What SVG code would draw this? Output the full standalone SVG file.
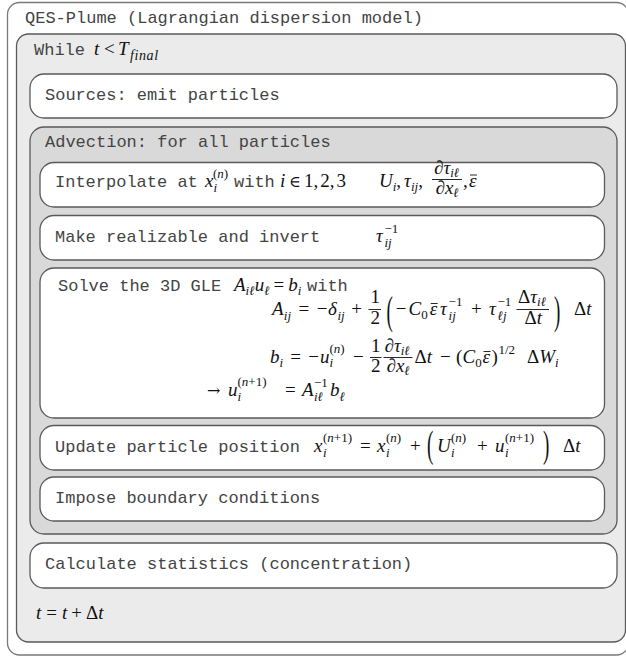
<svg xmlns="http://www.w3.org/2000/svg" width="626" height="657" viewBox="0 0 626 657">
<style>
.box{stroke:#5a5a5a;stroke-width:1.3}
.w{fill:#fff}
.g1{fill:#ebebeb}
.g2{fill:#d9d9d9}
.mono{font-family:"Liberation Mono","Courier New",monospace;font-size:17px;fill:#444}
.m{font-family:"Liberation Serif","Times New Roman",serif;font-style:italic;font-size:19px;fill:#111}
.n{font-style:normal}
.s{font-size:13px}
.arr{font-family:"DejaVu Serif",serif;font-size:16px;fill:#111}
.bar{stroke:#111;stroke-width:0.9}
</style>
<rect width="626" height="657" fill="#fff"/>
<g id="outer">
<rect x="7.5" y="2.5" width="621" height="652.5" rx="12" fill="#fff" stroke="#7a7a7a" stroke-width="1.3"/>
<text class="mono" x="25" y="23">QES-Plume (Lagrangian dispersion model)</text>
</g>
<g id="loop">
<rect class="box g1" x="16.5" y="34" width="609" height="608" rx="12"/>
<text class="mono" x="34" y="55">While</text>
<text class="m" x="94" y="55">t</text>
<text class="m n" x="104" y="55">&lt;</text>
<text class="m" x="118" y="55">T</text>
<text class="m s" x="130" y="59.5" style="font-size:14px;letter-spacing:0.6px">final</text>
</g>
<g id="sources">
<rect class="box w" x="30" y="74" width="587" height="44" rx="14"/>
<text class="mono" x="45" y="100">Sources: emit particles</text>
</g>
<g id="advection">
<rect class="box g2" x="30" y="127" width="587" height="407" rx="14"/>
<text class="mono" x="45" y="147">Advection: for all particles</text>
</g>
<g id="interpolate">
<rect class="box w" x="40" y="162.5" width="564.5" height="44.5" rx="14"/>
<text class="mono" x="55" y="187">Interpolate at</text>
<text class="m" x="205" y="187">x</text>
<text class="m s" x="213.5" y="191.5">i</text>
<text class="m s" x="213" y="178"><tspan class="n">(</tspan>n<tspan class="n">)</tspan></text>
<text class="mono" x="234" y="187">with</text>
<text class="m" x="280" y="187">i</text>
<text class="arr" x="289" y="187">∈</text>
<text class="m n" x="304" y="187">1,<tspan dx="2">2,</tspan><tspan dx="2">3</tspan></text>
<text class="m" x="379" y="187">U<tspan class="s" dy="4">i</tspan><tspan class="n" dy="-4">,</tspan><tspan dx="3">τ</tspan><tspan class="s" dy="4">ij</tspan><tspan class="n" dy="-4">,</tspan></text>
<text class="m" x="434" y="174">∂τ<tspan class="s" dy="3">iℓ</tspan></text>
<line class="bar" x1="432" y1="179.5" x2="462" y2="179.5"/>
<text class="m" x="435.5" y="194">∂x<tspan class="s" dy="3">ℓ</tspan></text>
<text class="m n" x="463" y="187">,</text>
<text class="m" x="469" y="187">ε</text>
<line class="bar" x1="470" y1="175" x2="477" y2="175"/>
</g>
<g id="realizable">
<rect class="box w" x="40" y="215.5" width="564.5" height="44.5" rx="14"/>
<text class="mono" x="55" y="242">Make realizable and invert</text>
<text class="m" x="376" y="242">τ</text>
<text class="m s" x="384.5" y="247">ij</text>
<text class="m s n" x="384.5" y="233">−1</text>
</g>
<g id="solve">
<rect class="box w" x="40" y="268" width="564.5" height="150" rx="14"/>
<text class="mono" x="58" y="291">Solve the 3D GLE</text>
<text class="m" x="234" y="291">A<tspan class="s" dy="4">iℓ</tspan><tspan dy="-4">u</tspan><tspan class="s" dy="4">ℓ</tspan><tspan class="n" dy="-4" dx="4">=</tspan><tspan dx="4">b</tspan><tspan class="s" dy="4">i</tspan></text>
<text class="mono" x="307" y="291">with</text>
<text class="m" x="272" y="315">A</text>
<text class="m s" x="283.8" y="319.5">ij</text>
<text class="m n" x="298.5" y="315">=</text>
<text class="m n" x="316.7" y="315">−</text>
<text class="m" x="328" y="315">δ</text>
<text class="m s" x="337.5" y="319.5">ij</text>
<text class="m n" x="351.2" y="315">+</text>
<text class="m n" x="370.5" y="303">1</text>
<line class="bar" x1="368.5" y1="309.5" x2="381" y2="309.5"/>
<text class="m n" x="370.5" y="324">2</text>
<text class="m n" transform="translate(386.5,324.3) scale(1,2.1)">(</text>
<text class="m n" x="395.8" y="315">−</text>
<text class="m" x="408.5" y="315">C</text>
<text class="m s n" x="421.2" y="319">0</text>
<text class="m" x="429.7" y="315">ε</text>
<line class="bar" x1="430.7" y1="303.5" x2="437.7" y2="303.5"/>
<text class="m" x="440.1" y="315">τ</text>
<text class="m s" x="448.6" y="320">ij</text>
<text class="m s n" x="448.6" y="305.5">−1</text>
<text class="m n" x="471" y="315">+</text>
<text class="m" x="489" y="315">τ</text>
<text class="m s" x="497.5" y="320">ℓj</text>
<text class="m s n" x="497.5" y="305.5">−1</text>
<text class="m" x="518" y="303"><tspan class="n">Δ</tspan>τ<tspan class="s" dy="3">iℓ</tspan></text>
<line class="bar" x1="516.5" y1="309.5" x2="549" y2="309.5"/>
<text class="m" x="524.5" y="324"><tspan class="n">Δ</tspan>t</text>
<text class="m n" transform="translate(554,324.3) scale(1,2.1)">)</text>
<text class="m" x="574" y="315"><tspan class="n">Δ</tspan>t</text>
<text class="m" x="270" y="363">b</text>
<text class="m s" x="279.5" y="367">i</text>
<text class="m n" x="290.3" y="363">=</text>
<text class="m n" x="308.2" y="363">−</text>
<text class="m" x="320" y="363">u</text>
<text class="m s" x="329.5" y="367">i</text>
<text class="m s" x="329.5" y="353"><tspan class="n">(</tspan>n<tspan class="n">)</tspan></text>
<text class="m n" x="353" y="363">−</text>
<text class="m n" x="371" y="352">1</text>
<line class="bar" x1="370" y1="357.5" x2="381.5" y2="357.5"/>
<text class="m n" x="371" y="371.5">2</text>
<text class="m" x="384.5" y="352">∂τ<tspan class="s" dy="3">iℓ</tspan></text>
<line class="bar" x1="383.5" y1="357.5" x2="412.5" y2="357.5"/>
<text class="m" x="386.5" y="371.5">∂x<tspan class="s" dy="3">ℓ</tspan></text>
<text class="m" x="414.5" y="363"><tspan class="n">Δ</tspan>t</text>
<text class="m n" x="440" y="363">−</text>
<text class="m n" x="456" y="363">(</text>
<text class="m" x="462.5" y="363">C</text>
<text class="m s n" x="475.2" y="367">0</text>
<text class="m" x="482.5" y="363">ε</text>
<line class="bar" x1="483.5" y1="351.5" x2="490.5" y2="351.5"/>
<text class="m n" x="491.5" y="363">)</text>
<text class="m s n" x="498.5" y="353.5">1/2</text>
<text class="m" x="527" y="363"><tspan class="n">Δ</tspan>W</text>
<text class="m s" x="555" y="367">i</text>
<text class="arr" x="207" y="396">→</text>
<text class="m" x="228" y="396">u</text>
<text class="m s" x="237.5" y="400.5">i</text>
<text class="m s" x="237.5" y="386"><tspan class="n">(</tspan>n<tspan class="n">+1)</tspan></text>
<text class="m n" x="285" y="396">=</text>
<text class="m" x="302" y="396">A</text>
<text class="m s" x="314" y="400.5">iℓ</text>
<text class="m s n" x="314" y="387">−1</text>
<text class="m" x="330" y="396">b</text>
<text class="m s" x="339.5" y="400.5">ℓ</text>
</g>
<g id="update">
<rect class="box w" x="40" y="425.5" width="564.5" height="44.5" rx="14"/>
<text class="mono" x="55" y="452">Update particle position</text>
<text class="m" x="314" y="452">x</text>
<text class="m s" x="323" y="456.5">i</text>
<text class="m s" x="323" y="442"><tspan class="n">(</tspan>n<tspan class="n">+1)</tspan></text>
<text class="m n" x="360" y="452">=</text>
<text class="m" x="377" y="452">x</text>
<text class="m s" x="386" y="456.5">i</text>
<text class="m s" x="386" y="442"><tspan class="n">(</tspan>n<tspan class="n">)</tspan></text>
<text class="m n" x="410" y="452">+</text>
<text class="m n" transform="translate(427,457) scale(1,2.0)">(</text>
<text class="m" x="437" y="452">U</text>
<text class="m s" x="451" y="456.5">i</text>
<text class="m s" x="451" y="442"><tspan class="n">(</tspan>n<tspan class="n">)</tspan></text>
<text class="m n" x="477" y="452">+</text>
<text class="m" x="495" y="452">u</text>
<text class="m s" x="505" y="456.5">i</text>
<text class="m s" x="505" y="442"><tspan class="n">(</tspan>n<tspan class="n">+1)</tspan></text>
<text class="m n" transform="translate(543,457) scale(1,2.0)">)</text>
<text class="m" x="563" y="452"><tspan class="n">Δ</tspan>t</text>
</g>
<g id="boundary">
<rect class="box w" x="40" y="477" width="564.5" height="44" rx="14"/>
<text class="mono" x="55" y="503">Impose boundary conditions</text>
</g>
<g id="statistics">
<rect class="box w" x="30" y="543" width="587" height="45" rx="14"/>
<text class="mono" x="45" y="569">Calculate statistics (concentration)</text>
</g>
<g id="timestep">
<text class="m" x="36" y="619">t<tspan class="n" dx="5">=</tspan><tspan dx="5">t</tspan><tspan class="n" dx="4">+</tspan><tspan class="n" dx="4">Δ</tspan>t</text>
</g>
<g id="connectors"></g>
</svg>
